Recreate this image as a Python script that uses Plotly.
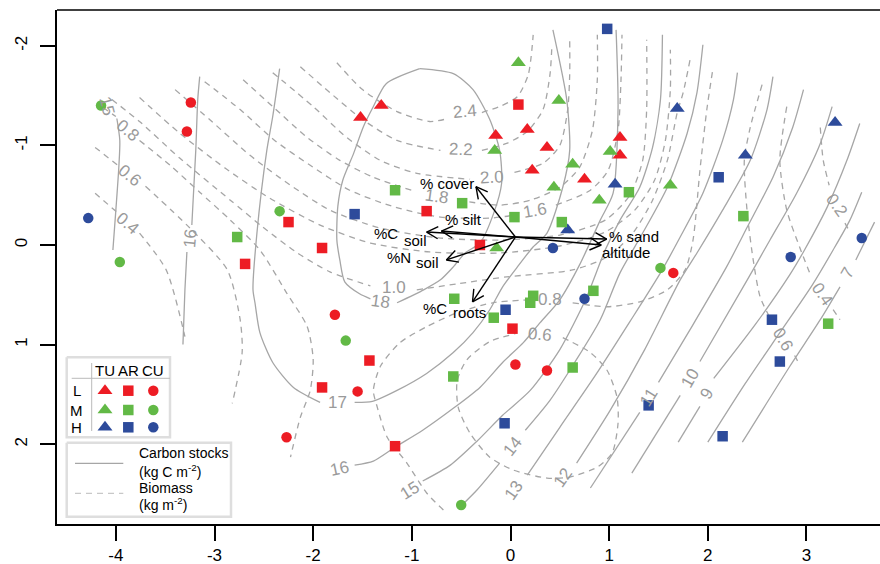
import math
import plotly.graph_objects as go

# ---------------- site scores (data units) ----------------
TU_L_x = [-1.31, -1.52, -0.15, 0.17, 0.37, 0.22, 0.75, 1.11, 1.11]
TU_L_y = [-1.40, -1.28, -1.10, -1.16, -0.98, -0.75, -0.66, -1.08, -0.90]
TU_M_x = [0.08, 0.49, -0.16, 0.63, 0.44, 1.01, 0.90, 1.62, -0.14]
TU_M_y = [-1.83, -1.45, -0.95, -0.81, -0.58, -0.94, -0.45, -0.60, 0.03]
TU_H_x = [1.69, 3.29, 2.38, 1.06, 0.58]
TU_H_y = [-1.37, -1.23, -0.90, -0.61, -0.15]

AR_L_x = [0.08, -0.85, -2.25, -2.69, -1.91, -0.31, 0.02, -1.43, -1.91, -1.17]
AR_L_y = [-1.41, -0.34, -0.23, 0.19, 0.03, 0.00, 0.84, 1.16, 1.43, 2.02]
AR_M_x = [-1.17, -0.49, 0.04, 0.52, 1.20, -2.77, -0.57, 0.23, 0.20, 0.84, -0.17, 2.36, 3.22, -0.58, 0.63]
AR_M_y = [-0.55, -0.42, -0.28, -0.23, -0.53, -0.08, 0.54, 0.51, 0.58, 0.46, 0.73, -0.29, 0.79, 1.32, 1.23]
AR_H_x = [0.98, -1.58, 2.11, -0.05, 2.65, 2.73, 1.40, 2.15, -0.06]
AR_H_y = [-2.17, -0.31, -0.68, 0.65, 0.75, 1.17, 1.61, 1.92, 1.79]

CU_L_x = [-3.24, -3.28, -1.78, -1.55, -2.27, 0.05, 0.37, 1.65]
CU_L_y = [-1.43, -1.14, 0.70, 1.47, 1.93, 1.20, 1.26, 0.28]
CU_M_x = [-4.15, -3.96, -2.34, -1.67, 1.52, -0.50]
CU_M_y = [-1.40, 0.17, -0.34, 0.96, 0.23, 2.61]
CU_H_x = [-4.28, 0.43, 3.56, 2.84, 0.75]
CU_H_y = [-0.27, 0.03, -0.07, 0.12, 0.54]

# ---------------- environmental vectors ----------------
vec_origin = (0.05, -0.08)
vec_names = ["% cover", "% silt", "%C soil", "%N soil", "% sand", "altitude", "%C roots"]
vec_x = [-0.35, -0.70, -0.85, -0.65, 0.975, 0.92, -0.385]
vec_y = [-0.585, -0.14, -0.13, 0.15, -0.06, 0.00, 0.57]

# ---------------- carbon stock contours (solid) ----------------
S18_x = [-0.92, -1.26, -1.39, -1.49, -1.59, -1.70, -1.75, -1.76, -1.73, -1.68, -1.53, -1.42, None,
         -1.15, -0.88, -0.71, -0.58, -0.46, -0.31, -0.17, -0.09, -0.11, -0.21, -0.38, -0.58, -0.92]
S18_y = [-1.77, -1.62, -1.39, -1.19, -0.92, -0.65, -0.39, -0.05, 0.15, 0.37, 0.49, 0.54, None,
         0.58, 0.45, 0.35, 0.22, 0.08, -0.02, -0.32, -0.62, -0.95, -1.26, -1.56, -1.72, -1.77]
S17_x = [-2.34, -2.41, -2.47, -2.57, -2.61, -2.59, -2.54, -2.41, -2.20, -1.93, None,
         -1.58, -1.40, -1.15, -0.85, -0.58, -0.38, -0.21, -0.08, 0.07, 0.22, 0.37, 0.53, 0.60, 0.57, 0.43]
S17_y = [-1.77, -1.29, -0.95, -0.12, 0.45, 0.58, 0.88, 1.18, 1.43, 1.58, None,
         1.58, 1.57, 1.46, 1.29, 1.08, 0.88, 0.65, 0.42, 0.22, 0.03, -0.12, -0.58, -0.95, -1.46, -2.16]
S16a_x = [-3.15, -3.17, -3.19, -3.23, None, -3.28, -3.30, -3.32]
S16a_y = [-1.69, -1.46, -0.95, -0.20, None, 0.07, 0.45, 1.00]
S16b_x = [-1.58, -1.39, -1.17, -0.89, -0.58, -0.31, -0.08, 0.13, 0.30, 0.50, 0.70, 0.91, 1.04, 1.09, 1.07]
S16b_y = [2.21, 2.17, 2.03, 1.86, 1.64, 1.43, 1.18, 0.98, 0.78, 0.55, 0.20, -0.25, -0.52, -1.36, -2.16]
S15a_x = [-3.99, -3.96, -3.97, -4.00, -4.03]
S15a_y = [-1.27, -1.05, -0.78, -0.35, 0.05]
S15b_x = [-0.89, -0.61, -0.34, -0.08, 0.20, 0.50, 0.76, 0.96, 1.11, 1.31, 1.44, 1.52, 1.54]
S15b_y = [2.37, 2.21, 1.97, 1.71, 1.46, 1.05, 0.55, 0.05, -0.25, -0.58, -0.98, -1.46, -2.11]
S14_x = [-0.49, -0.34, -0.11, None, 0.15, 0.40, 0.65, 0.91, 1.11, 1.34, 1.59, 1.79, 1.89, 1.95]
S14_y = [2.61, 2.46, 2.19, None, 1.86, 1.56, 1.18, 0.75, 0.28, -0.12, -0.58, -1.12, -1.53, -2.01]
S13_x = [0.17, 0.50, 0.86, 1.21, 1.52, 1.72, 1.95, 2.15, 2.26, 2.30]
S13_y = [2.31, 1.83, 1.31, 0.77, 0.28, -0.08, -0.52, -1.05, -1.46, -1.73]
S12_x = [0.67, 1.01, 1.36, 1.72, 1.89, 2.15, 2.43, 2.60, 2.66]
S12_y = [2.19, 1.66, 1.05, 0.35, 0.08, -0.35, -0.85, -1.36, -1.69]
S11_x = [0.81, 1.31, None, 1.50, 1.82, 2.19, 2.40, 2.66, 2.86, 2.97]
S11_y = [2.44, 1.68, None, 1.38, 0.85, 0.22, -0.18, -0.68, -1.18, -1.56]
S10_x = [1.23, 1.72, None, 1.92, 2.40, 2.63, 2.90, 3.14, 3.26]
S10_y = [2.29, 1.51, None, 1.17, 0.35, -0.05, -0.52, -1.02, -1.39]
S9_x = [1.70, 1.92, None, 2.06, 2.48, 2.83, 2.98, 3.21, 3.41, 3.54]
S9_y = [1.98, 1.62, None, 1.34, 0.80, 0.30, 0.05, -0.38, -0.85, -1.22]
S8_x = [2.00, 2.38, 2.73, 3.06, 3.27, 3.44, 3.56]
S8_y = [1.98, 1.39, 0.88, 0.40, 0.05, -0.25, -0.53]
S7_x = [2.35, 2.83, 3.14, 3.34, None, 3.50, 3.60, 3.69]
S7_y = [1.98, 1.22, 0.75, 0.42, None, 0.15, -0.05, -0.23]

solid_lines = [(S18_x, S18_y), (S17_x, S17_y), (S16a_x, S16a_y), (S16b_x, S16b_y),
               (S15a_x, S15a_y), (S15b_x, S15b_y), (S14_x, S14_y), (S13_x, S13_y),
               (S12_x, S12_y), (S11_x, S11_y), (S10_x, S10_y), (S9_x, S9_y),
               (S8_x, S8_y), (S7_x, S7_y)]

solid_lab_text = ["18", "17", "16", "15", "14", "13", "12", "11", "10", "9", "7", "16", "15"]
solid_lab_x = [-1.32, -1.75, -1.73, -1.02, 0.02, 0.03, 0.53, 1.40, 1.82, 1.99, 3.42, -3.25, -4.09]
solid_lab_y = [0.57, 1.58, 2.24, 2.46, 2.02, 2.46, 2.33, 1.53, 1.34, 1.49, 0.28, -0.07, -1.39]
solid_lab_ang = [8, 0, -12, -32, -52, -55, -55, -58, -60, -60, -60, -85, 75]

# ---------------- biomass contours (dashed) ----------------
D24_x = [-1.76, -1.50, -1.15, -0.82, -0.63, None, -0.29, -0.11, 0.07, 0.18, 0.23]
D24_y = [-1.83, -1.56, -1.34, -1.24, -1.27, None, -1.33, -1.39, -1.49, -1.71, -2.11]
D22_x = [-2.13, -1.83, -1.50, -1.15, -0.71, None, -0.29, -0.04, 0.17, 0.33, 0.40, 0.42]
D22_y = [-1.79, -1.53, -1.26, -1.05, -0.95, None, -0.95, -1.02, -1.14, -1.36, -1.71, -2.01]
D20_x = [-2.41, -2.00, -1.66, -1.32, -0.95, -0.41, None, 0.04, 0.33, 0.50, 0.58, 0.60, 0.60]
D20_y = [-1.73, -1.39, -1.08, -0.85, -0.72, -0.66, None, -0.73, -0.82, -1.00, -1.36, -1.71, -2.06]
D18_x = [-2.71, -2.41, -2.06, -1.73, -1.39, -0.97, None, -0.53, -0.11, 0.20, 0.50, 0.70, 0.83, 0.88, 0.88]
D18_y = [-1.66, -1.39, -1.08, -0.85, -0.68, -0.54, None, -0.45, -0.40, -0.45, -0.58, -0.78, -1.15, -1.66, -2.11]
D16_x = [-3.10, -2.74, -2.39, -2.03, -1.63, -1.17, -0.71, -0.21, 0.04, None, 0.46, 0.81, 0.99, 1.09, 1.12, 1.13]
D16_y = [-1.64, -1.36, -1.05, -0.80, -0.55, -0.38, -0.28, -0.27, -0.30, None, -0.40, -0.55, -0.75, -1.15, -1.66, -2.11]
D14_x = [-3.40, -3.05, -2.64, -2.23, -1.83, -1.32, -0.71, -0.11, 0.50, 0.96, 1.21, 1.34, 1.38, 1.38]
D14_y = [-1.56, -1.26, -0.90, -0.60, -0.35, -0.17, -0.07, -0.05, -0.10, -0.25, -0.50, -0.85, -1.36, -2.06]
D12_x = [-3.76, -3.35, -2.89, -2.44, -1.93, -1.42, -0.82, -0.11, 0.50, 0.96, 1.26, 1.46, 1.57, 1.62, 1.62]
D12_y = [-1.48, -1.12, -0.77, -0.47, -0.20, -0.02, 0.07, 0.08, 0.01, -0.13, -0.35, -0.65, -1.05, -1.56, -1.96]
D10_x = [-4.04, -3.76, -3.35, -2.84, -2.51, -2.16, -1.83, -1.42, None,
         -0.95, -0.54, -0.04, 0.63, 0.98, 1.24, 1.44, 1.59, 1.69, 1.75, 1.82]
D10_y = [-1.46, -1.24, -0.87, -0.45, -0.18, 0.08, 0.27, 0.41, None,
         0.45, 0.39, 0.32, 0.25, 0.12, -0.12, -0.45, -0.85, -1.33, -1.53, -1.86]
D08L_x = [-4.13, -4.00, None, -3.76, -3.45, -3.15, -2.84, -2.54, -2.27, -2.06, -2.00, -2.03, -2.13, -2.23]
D08L_y = [-1.38, -1.29, None, -1.05, -0.80, -0.53, -0.25, 0.05, 0.48, 0.82, 1.15, 1.46, 1.73, 2.13]
D06L_x = [-4.21, -3.98, None, -3.70, -3.25, -2.87, -2.74, -2.72, -2.82]
D06L_y = [-0.98, -0.80, None, -0.59, -0.17, 0.25, 0.75, 1.08, 1.59]
D04L_x = [-4.21, -3.99, None, -3.76, -3.49, -3.30]
D04L_y = [-0.52, -0.33, None, -0.12, 0.25, 0.92]
D08C_x = [-0.68, -0.85, -1.05, -1.25, -1.35, -1.39, -1.32, -1.12, -0.85, -0.54, -0.18, 0.20, None,
          0.63, 0.98, 1.31, 1.59, 1.77, 1.85, 1.92, 1.99, 2.05]
D08C_y = [2.66, 2.49, 2.19, 1.93, 1.63, 1.46, 1.22, 0.98, 0.82, 0.68, 0.58, 0.55, None,
          0.58, 0.62, 0.57, 0.45, 0.25, -0.05, -0.75, -1.36, -1.76]
D06C_x = [0.53, 0.81, 0.98, 1.08, 1.09, 1.03, 0.88, 0.60, 0.37, 0.03, -0.21, -0.41, -0.53, -0.54, -0.44, -0.21, 0.05]
D06C_y = [0.93, 1.08, 1.26, 1.53, 1.79, 2.09, 2.23, 2.33, 2.34, 2.26, 2.13, 1.89, 1.63, 1.36, 1.15, 0.97, 0.89]
D06R_x = [2.55, 2.43, 2.37, 2.40, 2.46, 2.53, 2.63, None, 2.88, 2.93]
D06R_y = [-1.61, -1.18, -0.85, -0.32, 0.15, 0.52, 0.73, None, 1.11, 1.20]
D04R_x = [2.80, 2.73, 2.80, 2.93, 3.04, None, 3.27, 3.34]
D04R_y = [-1.39, -0.85, -0.35, 0.02, 0.30, None, 0.65, 0.75]
D02_x = [3.14, 3.17, 3.23, None, 3.39, 3.44]
D02_y = [-1.18, -0.85, -0.60, None, -0.22, -0.13]

dashed_lines = [(D24_x, D24_y), (D22_x, D22_y), (D20_x, D20_y), (D18_x, D18_y), (D16_x, D16_y),
                (D14_x, D14_y), (D12_x, D12_y), (D10_x, D10_y), (D08L_x, D08L_y), (D06L_x, D06L_y),
                (D04L_x, D04L_y), (D08C_x, D08C_y), (D06C_x, D06C_y), (D06R_x, D06R_y),
                (D04R_x, D04R_y), (D02_x, D02_y)]

dashed_lab_text = ["2.4", "2.2", "2.0", "1.8", "1.6", "1.0", "0.8", "0.6", "0.8", "0.6", "0.4", "0.6", "0.4", "0.2"]
dashed_lab_x = [-0.46, -0.50, -0.19, -0.75, 0.25, -1.18, 0.40, 0.30, -3.88, -3.86, -3.88, 2.76, 3.16, 3.31]
dashed_lab_y = [-1.34, -0.96, -0.68, -0.49, -0.35, 0.43, 0.55, 0.90, -1.15, -0.70, -0.22, 0.95, 0.50, -0.40]
dashed_lab_ang = [-5, 2, -3, 8, -10, 0, 0, 5, 40, 40, 40, 60, 55, 55]

x_ticks = [-4, -3, -2, -1, 0, 1, 2, 3]
y_ticks = [-2, -1, 0, 1, 2]

# ---------------- style ----------------
RED = "#ED1C24"
GREEN = "#62B946"
BLUE = "#2D4B9B"
GREY = "#A6A6A6"
FONT = "Liberation Sans, Arial, Helvetica, sans-serif"

# pixel -> data helpers (used only for placing the hand-made legend)
def LX(px):
    return (px - 510.5) / 98.66

def LY(py):
    return (py - 245.0) / 99.6

fig = go.Figure()

for xs, ys in solid_lines:
    fig.add_trace(go.Scatter(x=xs, y=ys, mode="lines", line=dict(color=GREY, width=1.3, shape="spline", smoothing=0.7),
                             hoverinfo="skip", showlegend=False))
for xs, ys in dashed_lines:
    fig.add_trace(go.Scatter(x=xs, y=ys, mode="lines",
                             line=dict(color=GREY, width=1.3, dash="6px,5px", shape="spline", smoothing=0.7),
                             hoverinfo="skip", showlegend=False))

groups = [
    (TU_L_x, TU_L_y, "triangle-up", RED), (TU_M_x, TU_M_y, "triangle-up", GREEN), (TU_H_x, TU_H_y, "triangle-up", BLUE),
    (AR_L_x, AR_L_y, "square", RED), (AR_M_x, AR_M_y, "square", GREEN), (AR_H_x, AR_H_y, "square", BLUE),
    (CU_L_x, CU_L_y, "circle", RED), (CU_M_x, CU_M_y, "circle", GREEN), (CU_H_x, CU_H_y, "circle", BLUE),
]
SIZES = {"triangle-up": 13, "square": 10.5, "circle": 10.5}
for xs, ys, sym, col in groups:
    fig.add_trace(go.Scatter(x=xs, y=ys, mode="markers",
                             marker=dict(symbol=sym, color=col, size=SIZES[sym], line=dict(width=0)),
                             hoverinfo="skip", showlegend=False))

# vectors with open heads
ox, oy = vec_origin
ax_list, ay_list = [], []
for tx, ty in zip(vec_x, vec_y):
    ax_list += [ox, tx, None]
    ay_list += [oy, ty, None]
    dx, dy = tx - ox, ty - oy
    n = math.hypot(dx, dy)
    ux, uy = -dx / n, -dy / n
    L, a = 0.13, math.radians(28)
    for s in (1, -1):
        rx = ux * math.cos(s * a) - uy * math.sin(s * a)
        ry = ux * math.sin(s * a) + uy * math.cos(s * a)
        ax_list += [tx, tx + L * rx, None]
        ay_list += [ty, ty + L * ry, None]
fig.add_trace(go.Scatter(x=ax_list, y=ay_list, mode="lines", line=dict(color="black", width=1.4),
                         hoverinfo="skip", showlegend=False))

# ---------------- legend (hand-made) ----------------
def box(x0, x1, y0, y1):
    fig.add_trace(go.Scatter(x=[LX(x0), LX(x1), LX(x1), LX(x0), LX(x0)],
                             y=[LY(y0), LY(y0), LY(y1), LY(y1), LY(y0)],
                             mode="lines", fill="toself", fillcolor="white",
                             line=dict(color="#DEDEDE", width=2.5), hoverinfo="skip", showlegend=False))

box(66.7, 170, 357.3, 437.3)
box(66.7, 231, 442.7, 516.7)
fig.add_trace(go.Scatter(x=[LX(91.7), LX(91.7), None, LX(71.7), LX(170)],
                         y=[LY(363), LY(431), None, LY(378.3), LY(378.3)],
                         mode="lines", line=dict(color="#BBBBBB", width=1), hoverinfo="skip", showlegend=False))
fig.add_trace(go.Scatter(x=[LX(75), LX(123.3)], y=[LY(463.3), LY(463.3)], mode="lines",
                         line=dict(color=GREY, width=1.3), hoverinfo="skip", showlegend=False))
fig.add_trace(go.Scatter(x=[LX(75), LX(123.3)], y=[LY(493.3), LY(493.3)], mode="lines",
                         line=dict(color="#C8C8C8", width=1.3, dash="6px,5px"), hoverinfo="skip", showlegend=False))
leg_cols = [105, 128.3, 153.3]
leg_rows = [390.7, 410, 427.3]
leg_syms = ["triangle-up", "square", "circle"]
leg_cols_c = [RED, GREEN, BLUE]
for ci, cx in enumerate(leg_cols):
    fig.add_trace(go.Scatter(x=[LX(cx)] * 3, y=[LY(r) for r in leg_rows], mode="markers",
                             marker=dict(symbol=leg_syms[ci], color=leg_cols_c, size=SIZES[leg_syms[ci]], line=dict(width=0)),
                             hoverinfo="skip", showlegend=False))

ann = []
def txt(x, y, t, size=14, color="black", xanchor="center", angle=0):
    ann.append(dict(x=x, y=y, xref="x", yref="y", text=t, showarrow=False, textangle=angle,
                    xanchor=xanchor, yanchor="middle", font=dict(family=FONT, size=size, color=color)))

for t, x, y, a in zip(solid_lab_text, solid_lab_x, solid_lab_y, solid_lab_ang):
    txt(x, y, t, size=17, color="#9A9A9A", angle=a)
for t, x, y, a in zip(dashed_lab_text, dashed_lab_x, dashed_lab_y, dashed_lab_ang):
    txt(x, y, t, size=17, color="#9A9A9A", angle=a)

# vector labels
txt(-0.94, -0.62, "% cover", size=15, xanchor="left")
txt(-0.68, -0.26, "% silt", size=15, xanchor="left")
txt(-1.12, -0.12, "%C", size=15, xanchor="right")
txt(-1.10, -0.05, "soil", size=15, xanchor="left")
txt(-0.99, 0.13, "%N", size=15, xanchor="right")
txt(-0.98, 0.18, "soil", size=15, xanchor="left")
txt(0.98, -0.09, "% sand", size=15, xanchor="left")
txt(0.91, 0.08, "altitude", size=15, xanchor="left")
txt(-0.62, 0.64, "%C", size=15, xanchor="right")
txt(-0.60, 0.68, "roots", size=15, xanchor="left")

# legend text
for t, cx in zip(["TU", "AR", "CU"], leg_cols):
    txt(LX(cx), LY(370), t, size=15)
for t, ry in zip(["L", "M", "H"], leg_rows):
    txt(LX(76.7), LY(ry), t, size=15)
txt(LX(137.3), LY(453.3), "Carbon stocks", size=14, xanchor="left")
txt(LX(137.3), LY(470.7), "(kg C m<sup>-2</sup>)", size=14, xanchor="left")
txt(LX(137.3), LY(487.5), "Biomass", size=14, xanchor="left")
txt(LX(137.3), LY(504), "(kg m<sup>-2</sup>)", size=14, xanchor="left")

fig.update_layout(
    width=880, height=564,
    margin=dict(l=57, r=0, t=10, b=40, autoexpand=False),
    paper_bgcolor="white", plot_bgcolor="white",
    annotations=ann,
    shapes=[dict(type="line", xref="paper", yref="paper", x0=0, x1=1, y0=1, y1=1,
                 line=dict(color="black", width=1.5))],
    font=dict(family=FONT),
)
fig.update_xaxes(range=[LX(57), LX(880)], tickvals=x_ticks, ticktext=[str(v) for v in x_ticks],
                 ticks="outside", ticklen=15, tickwidth=1.5, tickcolor="black", automargin=False,
                 showline=True, linecolor="black", linewidth=1.5, mirror=False, ticklabelstandoff=0,
                 showgrid=False, zeroline=False, tickfont=dict(size=17, color="black", family=FONT))
fig.update_yaxes(range=[LY(524), LY(10)], tickvals=y_ticks, ticktext=[str(v) for v in y_ticks],
                 ticks="outside", ticklen=15, tickwidth=1.5, tickcolor="black", tickangle=-90, automargin=False,
                 showline=True, linecolor="black", linewidth=1.5, mirror=False, ticklabelstandoff=6,
                 showgrid=False, zeroline=False, tickfont=dict(size=17, color="black", family=FONT))

fig.write_html("out.html", config={"displayModeBar": False},
               post_script="document.body.style.margin='0';document.body.style.padding='0';document.body.style.overflow='hidden';")
